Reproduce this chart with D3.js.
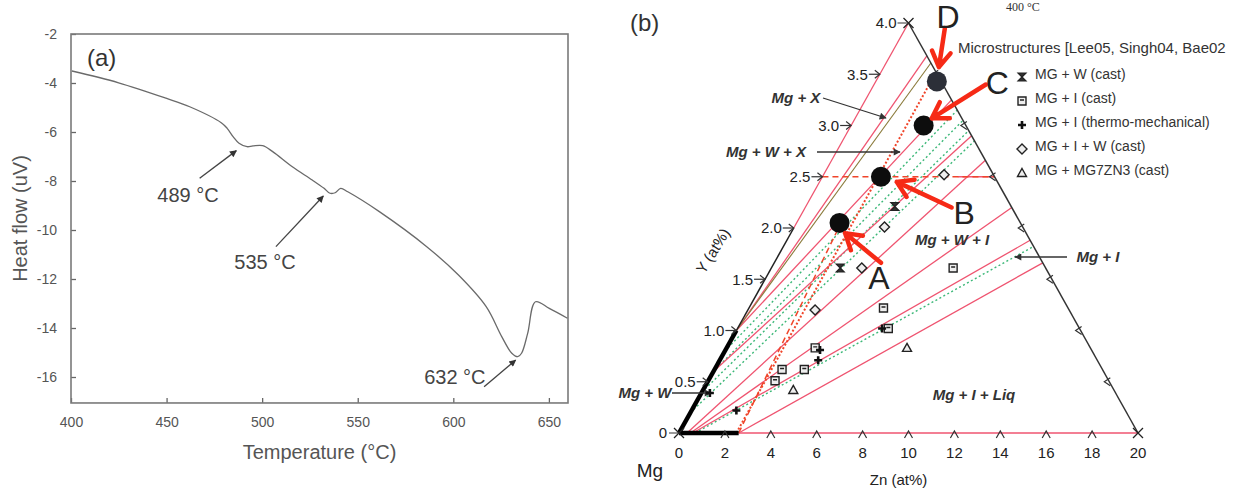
<!DOCTYPE html>
<html><head><meta charset="utf-8">
<script src="https://cdn.jsdelivr.net/npm/d3@7"></script>
<style>
html,body{margin:0;padding:0;background:#fff;}
svg{display:block;font-family:Arial,"Liberation Sans",sans-serif;}
</style></head><body>
<div id="chart" style="width:1243px;height:489px"></div>
<script>
// ---------- panel (a): DTA heating trace ----------
const tempTicks = [400, 450, 500, 550, 600, 650];
const flowTicks = [-2, -4, -6, -8, -10, -12, -14, -16];
const temperature = [400.5, 424.9, 449.7, 462.1, 478.6, 481.7, 484.8, 487.9, 492.1, 495.2, 500.3, 505.5, 515.8, 526.2, 532.4, 535.5, 538.2, 541.1, 544.8, 561.3, 586.1, 602.7, 617.2, 625.4, 630.6, 633.7, 635.7, 638.9, 643.0, 650.2, 659.7];
const heatFlow = [-3.51, -3.99, -4.62, -4.97, -5.62, -5.85, -6.19, -6.46, -6.60, -6.57, -6.56, -6.80, -7.42, -7.96, -8.30, -8.50, -8.48, -8.30, -8.44, -9.25, -10.68, -11.84, -13.13, -14.36, -15.03, -15.17, -15.03, -14.22, -12.93, -13.20, -13.60];
const peakLabels = ["489 °C", "535 °C", "632 °C"];
const peakTip = [[486.5, -6.76], [532.0, -8.61], [632.6, -15.31]];
const peakTail = [[467.3, -7.89], [507.2, -10.68], [616.1, -16.40]];
const peakText = [[461.2, -8.57], [501.5, -11.31], [600.8, -16.0]];

// ---------- panel (b): Mg-rich corner of Mg-Zn-Y section ----------
const znTicks = [0, 2, 4, 6, 8, 10, 12, 14, 16, 18, 20];
const yTicks = [0, 0.5, 1.0, 1.5, 2.0, 2.5, 3.0, 3.5, 4.0];
const rightTicks = [0.5, 1.0, 1.5, 2.0, 2.5, 3.0, 3.5];
// tie lines / boundaries [zn1, y1, zn2, y2]
const pinkLines = [
  [0, 2.0, 0, 4.0],
  [0, 1.0, 1.6, 3.68],
  [0, 1.0, 3.75, 3.25],
  [0, 0.6, 5.5, 2.9],
  [0.35, 0, 6.7, 2.66],
  [0.5, 0, 9.0, 2.2],
  [0.6, 0, 10.6, 1.88],
  [2.6, 0, 11.7, 1.66],
  [2.6, 0, 20, 0],
  [5.9, 2.5, 7.5, 2.5]
];
const oliveLines = [[0, 1.0, 1.95, 3.61]];
const greenLines = [
  [0, 0.2, 5.75, 2.85],
  [0, 0.4, 5.25, 2.95],
  [0, 0.6, 4.75, 3.05],
  [0, 0.8, 4.25, 3.15],
  [0.7, 0, 10.9, 1.82]
];
const redDotted = [[2.5, 0, 2.4, 3.45]];
const redDashed = [[2.6, 0, 1.95, 2.0], [0, 2.5, 7.5, 2.5]];
const alloyNames = ["A", "B", "C", "D"];
const alloyZn = [1.87, 2.55, 3.16, 2.66];
const alloyY = [2.05, 2.50, 3.00, 3.43];
const arrowFrom = [[4.65, 1.66], [6.38, 2.2], [4.87, 3.4], [1.71, 3.95]];
const arrowTo = [[2.36, 1.95], [3.36, 2.45], [3.34, 3.07], [2.40, 3.57]];
const letterAt = [[4.91, 1.52], [7.05, 2.15], [5.32, 3.42], [1.57, 4.06]];
// microstructure observations
const legendNames = ["MG + W (cast)", "MG + I (cast)", "MG + I (thermo-mechanical)", "MG + I + W (cast)", "MG + MG7ZN3 (cast)"];
const obsW = [[3.88, 2.21], [3.0, 1.61]];
const obsI = [[7.92, 1.61], [5.86, 1.22], [6.57, 1.02], [3.86, 0.83], [3.91, 0.62], [2.94, 0.62], [2.91, 0.51]];
const obsTM = [[6.3, 1.02], [4.12, 0.81], [4.29, 0.71], [1.95, 0.22], [0.37, 0.39]];
const obsIW = [[3.93, 2.01], [3.94, 1.61], [2.93, 1.2], [5.25, 2.52]];
const obsT = [[7.86, 0.83], [3.93, 0.42]];

const svg = d3.select("#chart").append("svg").attr("width", 1243).attr("height", 489);
svg.append("rect").attr("width", 1243).attr("height", 489).attr("fill", "#fff");

// ================= panel (a) =================
const x = d3.scaleLinear().domain([400, 660]).range([71, 568]);
const y = d3.scaleLinear().domain([-2, -16]).range([34, 377]);
const yLow = -17.06;
const pa = svg.append("g");

pa.append("g").attr("transform", `translate(0,${y(yLow)})`)
  .call(d3.axisBottom(x).tickValues(tempTicks).tickSize(-5).tickPadding(14))
  .call(g => g.select(".domain").remove())
  .call(g => g.selectAll("line").attr("stroke", "#666").attr("stroke-width", 1.3))
  .call(g => g.selectAll("text").attr("fill", "#555").attr("font-size", 14).attr("font-family", "Arial"));
pa.append("g").attr("transform", `translate(${x(400)},0)`)
  .call(d3.axisLeft(y).tickValues(flowTicks).tickFormat(d => String(d)).tickSize(-5).tickPadding(14))
  .call(g => g.select(".domain").remove())
  .call(g => g.selectAll("line").attr("stroke", "#666").attr("stroke-width", 1.3))
  .call(g => g.selectAll("text").attr("fill", "#555").attr("font-size", 14).attr("font-family", "Arial"));

pa.append("rect").attr("x", x(400)).attr("y", y(-2))
  .attr("width", x(660) - x(400)).attr("height", y(yLow) - y(-2))
  .attr("fill", "none").attr("stroke", "#7a7a7a").attr("stroke-width", 1.6);

pa.append("path").datum(d3.zip(temperature, heatFlow))
  .attr("fill", "none").attr("stroke", "#6a6a6a").attr("stroke-width", 1.3)
  .attr("d", d3.line().x(d => x(d[0])).y(d => y(d[1])).curve(d3.curveCatmullRom));

svg.append("defs").append("marker").attr("id", "blk")
  .attr("viewBox", "0 0 10 10").attr("refX", 9).attr("refY", 5)
  .attr("markerWidth", 9).attr("markerHeight", 7).attr("markerUnits", "userSpaceOnUse")
  .attr("orient", "auto")
  .append("path").attr("d", "M0,0L10,5L0,10Z").attr("fill", "#333");

peakLabels.forEach((t, i) => {
  pa.append("line")
    .attr("x1", x(peakTail[i][0])).attr("y1", y(peakTail[i][1]))
    .attr("x2", x(peakTip[i][0])).attr("y2", y(peakTip[i][1]))
    .attr("stroke", "#444").attr("stroke-width", 1.3).attr("marker-end", "url(#blk)");
  pa.append("text").attr("x", x(peakText[i][0])).attr("y", y(peakText[i][1]))
    .attr("dy", "0.35em").attr("text-anchor", "middle")
    .attr("font-size", 20).attr("fill", "#444").text(t);
});

pa.append("text").attr("x", 87).attr("y", 66).attr("font-size", 24).attr("fill", "#333").text("(a)");
pa.append("text").attr("x", (x(400) + x(660)) / 2).attr("y", 459).attr("text-anchor", "middle")
  .attr("font-size", 20).attr("fill", "#555").text("Temperature (°C)");
pa.append("text").attr("transform", `translate(27,${(y(-2) + y(yLow)) / 2}) rotate(-90)`)
  .attr("text-anchor", "middle").attr("font-size", 20).attr("fill", "#555").text("Heat flow (uV)");

// ================= panel (b) =================
const baseX = d3.scaleLinear().domain([0, 20]).range([679, 1138]);
const hY = d3.scaleLinear().domain([0, 4]).range([433, 23]);
const shear = (baseX(20) - baseX(0)) / 2 / (hY(0) - hY(4));
const P = (z, yv) => [baseX(z) + (hY(0) - hY(yv)) * shear, hY(yv)];
const pb = svg.append("g");
const seg = (g, d, col, w, dash) => g.append("line")
  .attr("x1", P(d[0], d[1])[0]).attr("y1", P(d[0], d[1])[1])
  .attr("x2", P(d[2], d[3])[0]).attr("y2", P(d[2], d[3])[1])
  .attr("stroke", col).attr("stroke-width", w).attr("stroke-dasharray", dash || null);

const PINK = "#ef5470";
greenLines.forEach(d => seg(pb, d, "#3cb878", 1.4, "2,2.5"));
pinkLines.forEach(d => seg(pb, d, PINK, 1.3));
oliveLines.forEach(d => seg(pb, d, "#8a7a3a", 1.1));
redDashed.forEach(d => seg(pb, d, "#f0452a", 1.5, "6,4"));
redDotted.forEach(d => seg(pb, d, "#f0452a", 2, "2,2"));

// triangle frame
seg(pb, [0, 1.0, 0, 2.0], "#222", 1.5);
seg(pb, [0, 4.0, 20, 0], "#333", 1.5);
seg(pb, [0, 0, 0, 1.0], "#000", 4.5);
seg(pb, [0, 0, 2.6, 0], "#000", 4.5);

// ticks on left edge (arrow-like) and labels
yTicks.forEach(v => {
  const [px, py] = P(0, v);
  if (v > 0 && v < 4) {
    pb.append("line").attr("x1", px - 11).attr("y1", py).attr("x2", px).attr("y2", py).attr("stroke", "#333").attr("stroke-width", 1.2);
    pb.append("path").attr("d", `M${px - 5},${py - 4}L${px},${py}L${px - 5},${py + 4}`).attr("fill", "none").attr("stroke", "#333").attr("stroke-width", 1.2);
  }
  pb.append("text").attr("x", px - 12).attr("y", py).attr("dy", "0.35em").attr("text-anchor", "end")
    .attr("font-size", 15).attr("fill", "#222").text(v === 0 ? "0" : v.toFixed(1));
});
// corner crosses
[[0, 0], [20, 0], [0, 4]].forEach(([z, v]) => {
  const [px, py] = P(z, v);
  pb.append("path").attr("d", `M${px - 5},${py - 5}L${px + 5},${py + 5}M${px - 5},${py + 5}L${px + 5},${py - 5}`)
    .attr("stroke", "#222").attr("stroke-width", 1.3);
});
pb.append("line").attr("x1", P(0, 4)[0] - 11).attr("y1", P(0, 4)[1]).attr("x2", P(0, 4)[0]).attr("y2", P(0, 4)[1]).attr("stroke", "#333");
pb.append("line").attr("x1", P(0, 0)[0] - 10).attr("y1", P(0, 0)[1]).attr("x2", P(0, 0)[0]).attr("y2", P(0, 0)[1]).attr("stroke", "#333");
// bottom ticks
znTicks.forEach(z => {
  const [px, py] = P(z, 0);
  if (z > 0 && z < 20) {
    pb.append("path").attr("d", `M${px - 4},${py + 5}L${px},${py - 2}L${px + 4},${py + 5}`).attr("fill", "none").attr("stroke", "#333").attr("stroke-width", 1.2);
  }
  pb.append("text").attr("x", px).attr("y", py + 25).attr("text-anchor", "middle")
    .attr("font-size", 15).attr("fill", "#222").text(z);
});
// right edge ticks
rightTicks.forEach(v => {
  const [px, py] = P(20 * (1 - v / 4), v);
  pb.append("path").attr("d", `M${px + 1},${py - 4}L${px - 5},${py}L${px + 1},${py + 4}`).attr("fill", "none").attr("stroke", "#333").attr("stroke-width", 1.2);
});

// axis titles
pb.append("text").attr("transform", `translate(${P(0, 1.75)[0] - 62},${P(0, 1.75)[1]}) rotate(-58)`)
  .attr("text-anchor", "middle").attr("font-size", 15).attr("fill", "#222").text("Y (at%)");
pb.append("text").attr("x", baseX(10) - 10).attr("y", 485).attr("text-anchor", "middle")
  .attr("font-size", 15).attr("fill", "#222").text("Zn (at%)");
pb.append("text").attr("x", 650).attr("y", 477).attr("text-anchor", "middle")
  .attr("font-size", 19).attr("fill", "#222").text("Mg");
pb.append("text").attr("x", 630).attr("y", 31).attr("font-size", 24).attr("fill", "#333").text("(b)");
pb.append("text").attr("x", 1006).attr("y", 11).attr("font-size", 12).attr("fill", "#333")
  .attr("font-family", "'Liberation Serif','DejaVu Serif',serif").text("400 °C");

// region labels with pointers
const regionTxt = [
  { t: "Mg + X", x: 796, y: 98, lx: [823, 98, 886, 118] },
  { t: "Mg + W + X", x: 766, y: 152, lx: [817, 152, 900, 152] },
  { t: "Mg + W + I", x: 952, y: 240 },
  { t: "Mg + I", x: 1098, y: 257, lx: [1067, 257, 1015, 257] },
  { t: "Mg + I + Liq", x: 974, y: 395 },
  { t: "Mg + W", x: 645, y: 393, lx: [672, 393, 711, 393] }
];
regionTxt.forEach(r => {
  pb.append("text").attr("x", r.x).attr("y", r.y).attr("dy", "0.35em").attr("text-anchor", "middle")
    .attr("font-size", 15).attr("font-style", "italic").attr("font-weight", "bold").attr("fill", "#333").text(r.t);
  if (r.lx) {
    pb.append("line").attr("x1", r.lx[0]).attr("y1", r.lx[1]).attr("x2", r.lx[2]).attr("y2", r.lx[3])
      .attr("stroke", "#333").attr("stroke-width", 1.3).attr("marker-end", "url(#blk)");
  }
});

// observation symbols
const sym = {
  hour: "M-4,-4L4,-4L-4,4L4,4Z",
  sq: "M-4,-4H4V4H-4Z M-2,-1H2",
  plus: "M-4,0H4M0,-4V4",
  dia: "M0,-5L5,0L0,5L-5,0Z",
  tri: "M0,-4.5L4.5,3.5H-4.5Z"
};
const drawSym = (g, d, cx, cy) => {
  const p = g.append("path").attr("transform", `translate(${cx},${cy})`).attr("d", sym[d]);
  if (d === "hour") p.attr("fill", "#333").attr("stroke", "#222").attr("stroke-width", 1.2);
  else if (d === "plus") p.attr("fill", "none").attr("stroke", "#111").attr("stroke-width", 2.6);
  else p.attr("fill", "#eee").attr("stroke", "#222").attr("stroke-width", 1.4);
};
[[obsW, "hour"], [obsI, "sq"], [obsTM, "plus"], [obsIW, "dia"], [obsT, "tri"]].forEach(([arr, s]) =>
  arr.forEach(d => { const [px, py] = P(d[0], d[1]); drawSym(pb, s, px, py); }));

// legend
pb.append("text").attr("x", 958).attr("y", 53).attr("font-size", 15).attr("fill", "#333")
  .text("Microstructures [Lee05, Singh04, Bae02");
const legRow = d3.scaleLinear().domain([0, 4]).range([74, 170]);
["hour", "sq", "plus", "dia", "tri"].forEach((s, i) => {
  drawSym(pb, s, 1022, legRow(i) + 3);
  pb.append("text").attr("x", 1035).attr("y", legRow(i)).attr("dy", "0.35em")
    .attr("font-size", 14).attr("fill", "#333").text(legendNames[i]);
});

// alloy points and red arrows
alloyNames.forEach((n, i) => {
  const [px, py] = P(alloyZn[i], alloyY[i]);
  pb.append("circle").attr("cx", px).attr("cy", py).attr("r", 10)
    .attr("fill", i === 3 ? "#2c2f38" : "#0d0d0d");
  const [x1, y1] = P(arrowFrom[i][0], arrowFrom[i][1]);
  const [x2, y2] = P(arrowTo[i][0], arrowTo[i][1]);
  const ang = Math.atan2(y2 - y1, x2 - x1);
  const h = 18, sp = 0.55;
  pb.append("path")
    .attr("d", `M${x1},${y1}L${x2},${y2}M${x2 - h * Math.cos(ang - sp)},${y2 - h * Math.sin(ang - sp)}L${x2},${y2}L${x2 - h * Math.cos(ang + sp)},${y2 - h * Math.sin(ang + sp)}`)
    .attr("fill", "none").attr("stroke", "#f62a16").attr("stroke-width", 4.5)
    .attr("stroke-linecap", "round").attr("stroke-linejoin", "round");
  const [lx, ly] = P(letterAt[i][0], letterAt[i][1]);
  pb.append("text").attr("x", lx).attr("y", ly).attr("dy", "0.36em").attr("text-anchor", "middle")
    .attr("font-size", 32).attr("fill", "#222").text(n);
});
</script>
</body></html>
